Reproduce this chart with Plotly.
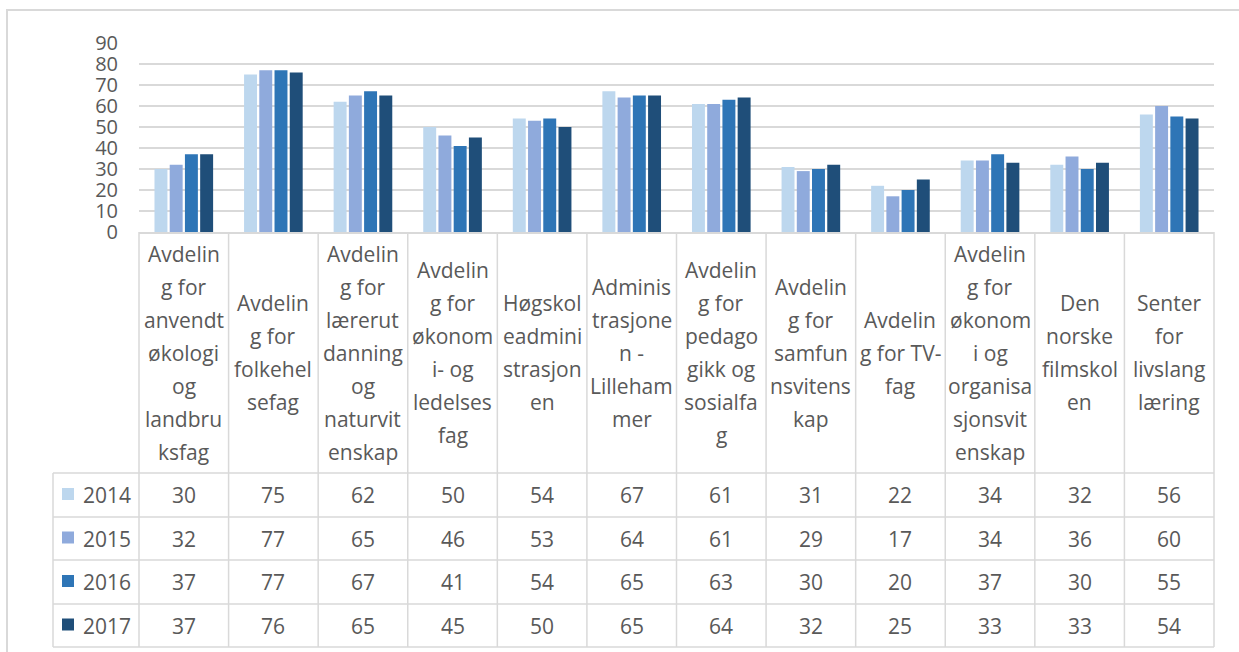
import plotly.graph_objects as go

# ---------------- data ----------------
categories = [
    "Avdeling for anvendt økologi og landbruksfag",
    "Avdeling for folkehelsefag",
    "Avdeling for lærerutdanning og naturvitenskap",
    "Avdeling for økonomi- og ledelsesfag",
    "Høgskoleadministrasjonen",
    "Administrasjonen - Lillehammer",
    "Avdeling for pedagogikk og sosialfag",
    "Avdeling for samfunnsvitenskap",
    "Avdeling for TV-fag",
    "Avdeling for økonomi og organisasjonsvitenskap",
    "Den norske filmskolen",
    "Senter for livslang læring",
]
category_lines = [
    ["Avdelin", "g for", "anvendt", "økologi", "og", "landbru", "ksfag"],
    ["Avdelin", "g for", "folkehel", "sefag"],
    ["Avdelin", "g for", "lærerut", "danning", "og", "naturvit", "enskap"],
    ["Avdelin", "g for", "økonom", "i- og", "ledelses", "fag"],
    ["Høgskol", "eadmini", "strasjon", "en"],
    ["Adminis", "trasjone", "n -", "Lilleham", "mer"],
    ["Avdelin", "g for", "pedago", "gikk og", "sosialfa", "g"],
    ["Avdelin", "g for", "samfun", "nsvitens", "kap"],
    ["Avdelin", "g for TV-", "fag"],
    ["Avdelin", "g for", "økonom", "i og", "organisa", "sjonsvit", "enskap"],
    ["Den", "norske", "filmskol", "en"],
    ["Senter", "for", "livslang", "læring"],
]
years = ["2014", "2015", "2016", "2017"]
v2014 = [30, 75, 62, 50, 54, 67, 61, 31, 22, 34, 32, 56]
v2015 = [32, 77, 65, 46, 53, 64, 61, 29, 17, 34, 36, 60]
v2016 = [37, 77, 67, 41, 54, 65, 63, 30, 20, 37, 30, 55]
v2017 = [37, 76, 65, 45, 50, 65, 64, 32, 25, 33, 33, 54]
series = [v2014, v2015, v2016, v2017]
colors = ["#BDD7EE", "#8FAADC", "#2E75B6", "#1F4E79"]
y_ticks = [0, 10, 20, 30, 40, 50, 60, 70, 80, 90]

# ---------------- layout geometry ----------------
W, H = 1239, 652
L, R, T, B = 139, 1214, 43, 232
TEXT = "#595959"
GRID = "#D9D9D9"
FONT = "Open Sans"
ncat = len(categories)
colw = (R - L) / ncat


def px(xp):
    return (xp - L) / (R - L)


def py(yp):
    return (B - yp) / (B - T)


fig = go.Figure()
for name, vals, col in zip(years, series, colors):
    fig.add_trace(go.Bar(x=categories, y=vals, name=name, marker=dict(color=col, line=dict(width=0))))

shapes = []
annotations = []

header_bottom = 473
row_lines = [473, 517, 560, 604, 647]
legend_left = 53

for k in range(ncat + 1):
    xk = L + k * colw
    shapes.append(dict(type="line", xref="paper", yref="paper", x0=px(xk), x1=px(xk),
                       y0=py(B), y1=py(row_lines[-1]), line=dict(color=GRID, width=1.5)))
shapes.append(dict(type="line", xref="paper", yref="paper", x0=px(legend_left), x1=px(legend_left),
                   y0=py(row_lines[0]), y1=py(row_lines[-1]), line=dict(color=GRID, width=1.5)))
for yl in row_lines:
    shapes.append(dict(type="line", xref="paper", yref="paper", x0=px(legend_left), x1=px(R),
                       y0=py(yl), y1=py(yl), line=dict(color=GRID, width=1.5)))

header_mid = (B + header_bottom) / 2
line_h = 33
for i, lines in enumerate(category_lines):
    xc = L + (i + 0.5) * colw
    n = len(lines)
    for j, txt in enumerate(lines):
        yc = header_mid - (n - 1) * line_h / 2 + j * line_h
        annotations.append(dict(x=px(xc), y=py(yc), xref="paper", yref="paper", text=txt,
                                showarrow=False, xanchor="center", yanchor="middle",
                                font=dict(family=FONT, size=21, color=TEXT)))

for r, (name, vals, col) in enumerate(zip(years, series, colors)):
    yc = (row_lines[r] + row_lines[r + 1]) / 2
    shapes.append(dict(type="rect", xref="paper", yref="paper", x0=px(62), x1=px(74),
                       y0=py(yc - 7), y1=py(yc + 5), fillcolor=col, line=dict(width=0)))
    annotations.append(dict(x=px(81), y=py(yc), xref="paper", yref="paper", text=name,
                            showarrow=False, xanchor="left", yanchor="middle",
                            font=dict(family=FONT, size=21, color=TEXT)))
    for i, v in enumerate(vals):
        xc = L + (i + 0.5) * colw
        annotations.append(dict(x=px(xc), y=py(yc), xref="paper", yref="paper", text=str(v),
                                showarrow=False, xanchor="center", yanchor="middle",
                                font=dict(family=FONT, size=21, color=TEXT)))

shapes.append(dict(type="rect", xref="paper", yref="paper", x0=px(7), x1=px(1260),
                   y0=py(680), y1=py(10), line=dict(color="#D9D9D9", width=2),
                   fillcolor="rgba(0,0,0,0)", layer="below"))

fig.update_layout(
    width=W, height=H,
    margin=dict(l=L, r=W - R, t=T, b=H - B, pad=0),
    paper_bgcolor="white", plot_bgcolor="white",
    barmode="group", bargap=0.32, bargroupgap=0.15,
    showlegend=False,
    shapes=shapes, annotations=annotations,
    xaxis=dict(showticklabels=False, showgrid=False, zeroline=False, showline=True,
               linecolor=GRID, linewidth=1.5, ticks=""),
    yaxis=dict(range=[0, 90], tickvals=y_ticks, showgrid=True, gridcolor=GRID, gridwidth=1.5,
               zeroline=False, showline=False, ticks="", ticklabelstandoff=20,
               tickfont=dict(family=FONT, size=20, color=TEXT)),
)

fig.write_html("out.html", config={"displayModeBar": False},
               post_script="document.body.style.margin='0';document.body.style.overflow='hidden';")
